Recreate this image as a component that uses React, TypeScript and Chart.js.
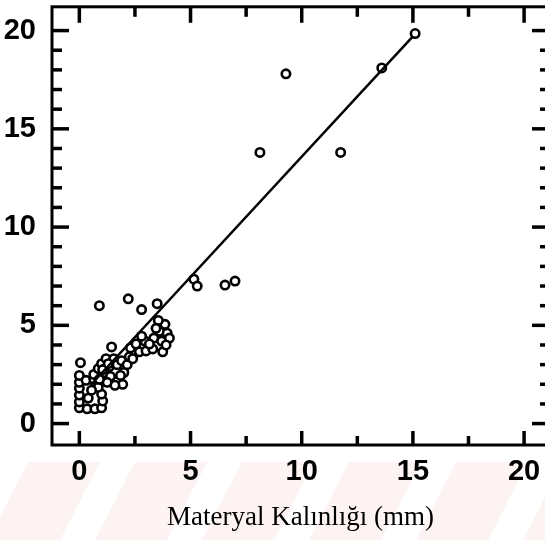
import React, { useEffect, useRef } from "react";
import { Chart, registerables } from "chart.js";

Chart.register(...registerables);

// Observed points (thickness in mm vs. response)
const X_VALS = [
  0.0, 0.0, 0.0, 0.0, 0.0, 0.0, 0.35, 0.7, 1.0, 1.05, 1.0, 0.85, 0.4, 0.55, 0.3, 0.65, 0.05,
  0.65, 0.85, 1.0, 1.2, 1.45, 1.35, 1.55, 1.7, 1.15, 1.4, 1.7, 1.95, 1.6, 1.25, 2.0, 1.9, 2.15, 2.25, 0.9,
  1.05, 1.3, 1.85, 2.4,
  2.3, 2.55, 2.7, 3.0, 2.95, 3.3, 3.35, 3.6, 3.85, 3.95, 3.7, 3.75, 4.05, 3.55, 3.15, 2.8,
  3.45, 3.9,
  0.9, 2.2, 2.8, 3.5,
  5.15, 5.3, 6.55, 7.0, 8.12, 9.29, 11.75, 13.6, 15.1,
];
const Y_VALS = [
  0.8, 1.1, 1.45, 1.8, 2.1, 2.45, 0.75, 0.75, 0.8, 1.15, 1.5, 1.85, 1.3, 1.7, 2.2, 2.25, 3.1,
  2.5, 2.8, 3.05, 3.3, 3.9, 2.9, 3.3, 3.0, 2.6, 2.4, 2.15, 2.0, 1.95, 2.1, 2.6, 3.2, 3.0, 3.4, 2.25,
  2.75, 3.05, 2.45, 3.3,
  3.85, 4.05, 3.65, 3.7, 4.2, 3.8, 4.35, 4.7, 5.05, 4.6, 4.2, 3.65, 4.35, 5.25, 4.05, 4.45,
  4.85, 4.0,
  6.0, 6.35, 5.8, 6.1,
  7.35, 7.0, 7.05, 7.25, 13.8, 17.8, 13.8, 18.1, 19.85,
];

// Fitted line end points
const FIT_X = [0.5, 15.0];
const FIT_Y = [1.95, 19.7];

// Axis ticks
const X_TICKS = [0, 5, 10, 15, 20];
const Y_TICKS = [0, 5, 10, 15, 20];
const X_MINOR = [2.5, 7.5, 12.5, 17.5];
const Y_MINOR = [1, 2, 3, 4, 6, 7, 8, 9, 11, 12, 13, 14, 16, 17, 18, 19];

const X_TITLE = "Materyal Kalınlığı (mm)";

const framePlugin = {
  id: "frame",
  beforeDraw(chart: any) {
    const { ctx, width, height } = chart;
    ctx.save();
    ctx.fillStyle = "#ffffff";
    ctx.fillRect(0, 0, width, height);
    // faint scanned-page watermark band at the bottom
    const top = 462;
    ctx.fillStyle = "#fdf3f3";
    ctx.fillRect(0, top, width, height - top);
    ctx.fillStyle = "#ffffff";
    for (let gx = -47; gx < width; gx += 107) {
      ctx.beginPath();
      ctx.moveTo(gx, height);
      ctx.lineTo(gx + 35, height);
      ctx.lineTo(gx + 35 + 40, top);
      ctx.lineTo(gx + 40, top);
      ctx.closePath();
      ctx.fill();
    }
    ctx.restore();
  },
  afterDraw(chart: any) {
    const { ctx, chartArea: a, scales } = chart;
    const x = scales.x;
    const y = scales.y;
    ctx.save();
    ctx.strokeStyle = "#000";
    ctx.lineCap = "butt";
    const seg = (x1: number, y1: number, x2: number, y2: number) => {
      ctx.beginPath();
      ctx.moveTo(x1, y1);
      ctx.lineTo(x2, y2);
      ctx.stroke();
    };
    ctx.lineWidth = 3.5;
    for (const v of X_TICKS) {
      const p = x.getPixelForValue(v);
      seg(p, a.bottom, p, a.bottom - 14);
      seg(p, a.top, p, a.top + 16);
    }
    for (const v of X_MINOR) {
      const p = x.getPixelForValue(v);
      seg(p, a.bottom, p, a.bottom - 9);
      seg(p, a.top, p, a.top + 10);
    }
    for (const v of Y_TICKS) {
      const p = y.getPixelForValue(v);
      seg(a.left, p, a.left + 17, p);
      seg(a.right, p, a.right - 17, p);
    }
    for (const v of Y_MINOR) {
      const p = y.getPixelForValue(v);
      seg(a.left, p, a.left + 10, p);
      seg(a.right, p, a.right - 9, p);
    }
    ctx.lineWidth = 3;
    ctx.strokeRect(a.left, a.top, a.right - a.left, a.bottom - a.top);
    ctx.restore();
  },
};

export default function App() {
  const ref = useRef<HTMLCanvasElement>(null);
  useEffect(() => {
    if (!ref.current) return;
    const points = X_VALS.map((v, i) => ({ x: v, y: Y_VALS[i] }));
    const fit = FIT_X.map((v, i) => ({ x: v, y: FIT_Y[i] }));
    const tickFont = { family: "'Liberation Sans', Arial, sans-serif", size: 29, weight: "bold" as const };
    const chart = new Chart(ref.current, {
      type: "scatter",
      data: {
        datasets: [
          {
            type: "line",
            data: fit,
            borderColor: "#000",
            borderWidth: 2.5,
            pointRadius: 0,
            fill: false,
          } as any,
          {
            data: points,
            pointStyle: "circle",
            pointRadius: 4.2,
            borderWidth: 2.6,
            borderColor: "#000",
            backgroundColor: "#fff",
          },
        ],
      },
      options: {
        responsive: false,
        animation: false,
        layout: { padding: { top: 4, right: 11, left: 0, bottom: 0 } },
        plugins: { legend: { display: false }, tooltip: { enabled: false } },
        scales: {
          x: {
            type: "linear",
            min: -1.23,
            max: 21.12,
            grid: { display: false },
            border: { display: false },
            afterBuildTicks: (s: any) => {
              s.ticks = X_TICKS.map((v) => ({ value: v }));
            },
            afterFit: (s: any) => {
              s.height = 95;
              s.paddingLeft = 0;
              s.paddingRight = 0;
            },
            ticks: { font: tickFont, color: "#000", padding: 2, maxRotation: 0, autoSkip: false },
            title: {
              display: true,
              text: X_TITLE,
              color: "#000",
              font: { family: "'Liberation Serif', 'Times New Roman', serif", size: 27 },
              padding: { top: 6, bottom: 6 },
            },
          },
          y: {
            type: "linear",
            min: -1.09,
            max: 21.21,
            grid: { display: false },
            border: { display: false },
            afterBuildTicks: (s: any) => {
              s.ticks = Y_TICKS.map((v) => ({ value: v }));
            },
            afterFit: (s: any) => {
              s.width = 52;
              s.paddingTop = 0;
              s.paddingBottom = 0;
            },
            ticks: { font: tickFont, color: "#000", padding: 8, autoSkip: false },
          },
        },
      },
      plugins: [framePlugin],
    });
    return () => chart.destroy();
  }, []);
  return (
    <div style={{ position: "absolute", left: 0, top: 0, width: 545, height: 540, overflow: "hidden" }}>
      <canvas ref={ref} width={560} height={540} style={{ display: "block" }} />
    </div>
  );
}
